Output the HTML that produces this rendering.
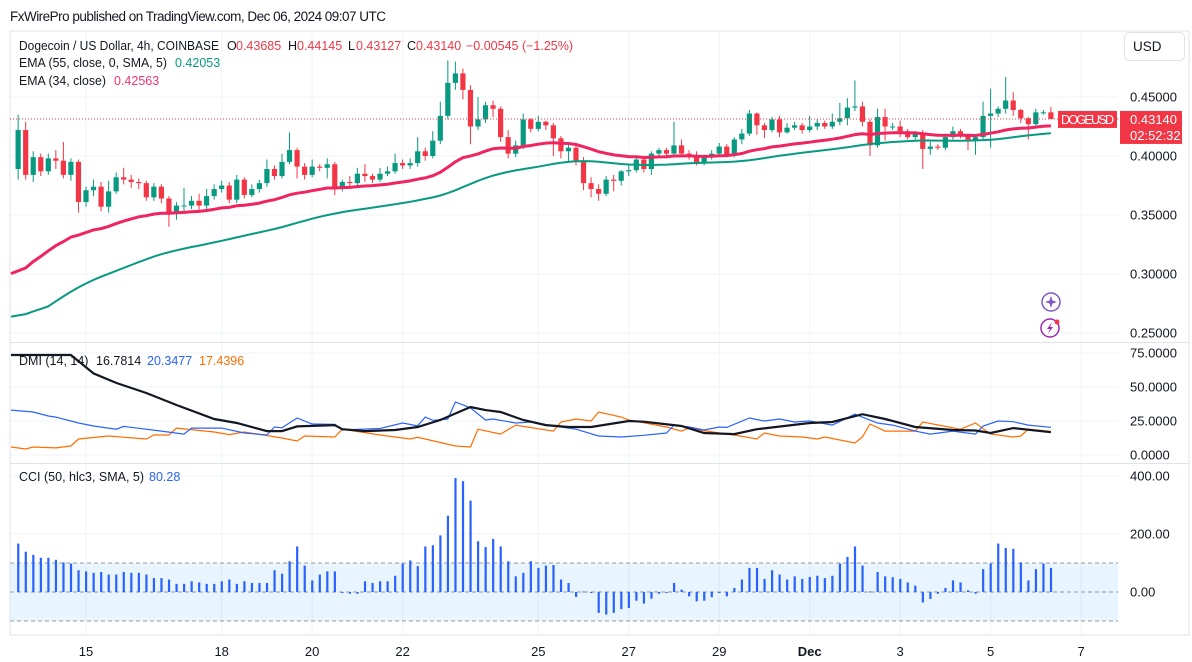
<!DOCTYPE html>
<html><head><meta charset="utf-8"><title>DOGEUSD chart</title>
<style>
html,body{margin:0;padding:0;background:#fff;width:1192px;height:662px;overflow:hidden}
svg{display:block;font-family:"Liberation Sans",sans-serif}
</style></head><body>
<svg id="chart" width="1192" height="662" viewBox="0 0 1192 662" xmlns="http://www.w3.org/2000/svg">
<rect x="0" y="0" width="1192" height="662" fill="#fff"/>
<text x="10" y="21" font-size="13.5" fill="#131722" textLength="376">FxWirePro published on TradingView.com, Dec 06, 2024 09:07 UTC</text>
<g id="grid"></g>
<g id="cciBand"></g>
<g id="candles"></g>
<g id="emas"></g>
<g id="dmi"></g>
<g id="cci"></g>
<g id="frame">
<line x1="10" y1="31" x2="1189" y2="31" stroke="#e0e3eb"/>
<line x1="10" y1="31" x2="10" y2="635" stroke="#e0e3eb"/>
<line x1="1189" y1="31" x2="1189" y2="635" stroke="#e0e3eb"/>
<line x1="10" y1="342.5" x2="1189" y2="342.5" stroke="#e0e3eb"/>
<line x1="10" y1="463.5" x2="1189" y2="463.5" stroke="#e0e3eb"/>
<line x1="10" y1="635" x2="1189" y2="635" stroke="#e0e3eb"/>
</g>
<g id="axes"></g>
<g font-size="12.5">
<text x="19" y="50" fill="#131722" textLength="200" lengthAdjust="spacingAndGlyphs">Dogecoin / US Dollar, 4h, COINBASE</text>
<text x="227" y="50" fill="#131722">O</text>
<text x="236" y="50" fill="#f23645">0.43685</text>
<text x="288" y="50" fill="#131722">H</text>
<text x="297" y="50" fill="#f23645">0.44145</text>
<text x="348" y="50" fill="#131722">L</text>
<text x="356" y="50" fill="#f23645">0.43127</text>
<text x="407" y="50" fill="#131722">C</text>
<text x="416" y="50" fill="#f23645">0.43140</text>
<text x="466" y="50" fill="#f23645">−0.00545 (−1.25%)</text>
<text x="19" y="67" fill="#131722" textLength="148" lengthAdjust="spacingAndGlyphs">EMA (55, close, 0, SMA, 5)</text>
<text x="175" y="67" fill="#089981">0.42053</text>
<text x="19" y="85" fill="#131722" textLength="87" lengthAdjust="spacingAndGlyphs">EMA (34, close)</text>
<text x="114" y="85" fill="#f23672">0.42563</text>
<text x="19" y="365" fill="#131722">DMI (14, 14)</text>
<text x="96" y="365" fill="#131722">16.7814</text>
<text x="147" y="365" fill="#2962ff">20.3477</text>
<text x="199" y="365" fill="#ff6d00">17.4396</text>
<text x="19" y="481" fill="#131722">CCI (50, hlc3, SMA, 5)</text>
<text x="149" y="481" fill="#2962ff">80.28</text>
</g>
<g>
<rect x="1124.5" y="32.5" width="60" height="28" rx="5" fill="#fff" stroke="#e0e3eb"/>
<text x="1133" y="51" font-size="13.5" fill="#131722">USD</text>
</g>
<g>
<circle cx="1051" cy="302" r="9" fill="#fff" stroke="#7e57c2" stroke-width="1.5"/>
<path d="M1051 296 L1052.5 300.5 L1057 302 L1052.5 303.5 L1051 308 L1049.5 303.5 L1045 302 L1049.5 300.5 Z" fill="#7e57c2"/>
<circle cx="1050" cy="328" r="9" fill="#fff" stroke="#9c27b0" stroke-width="1.5"/>
<path d="M1052 322 L1047 329 L1050 329 L1048 334 L1053 327 L1050 327 Z" fill="#9c27b0"/>
<circle cx="1057" cy="322" r="2.5" fill="#f23645"/>
</g>
<g id="priceLabels"></g>
</svg>
<script>
// ---- data ----
var closes = [
.422,.384,.399,.387,.398,.396,.384,.395,.361,.371,
.374,.357,.370,.382,.380,.378,.377,.365,.374,.364,
.351,.358,.358,.362,.358,.366,.372,.375,.363,.380,
.367,.372,.377,.389,.383,.395,.405,.391,.384,.391,
.390,.393,.373,.378,.377,.385,.383,.380,.385,.387,
.394,.392,.394,.404,.400,.413,.434,.462,.470,.456,
.425,.431,.443,.440,.416,.402,.409,.431,.423,.429,
.426,.415,.404,.407,.396,.377,.372,.368,.380,.379,
.387,.388,.397,.389,.402,.405,.402,.409,.402,.400,
.394,.399,.402,.408,.401,.414,.419,.436,.426,.422,
.431,.420,.424,.426,.422,.425,.428,.425,.429,.432,
.441,.442,.429,.409,.433,.425,.425,.421,.416,.419,
.406,.408,.407,.416,.421,.418,.414,.416,.434,.436,
.440,.447,.439,.432,.427,.437,.437,.4314];
var opens = [.389].concat(closes.slice(0, closes.length - 1));
var highs = [
.435,.429,.404,.402,.402,.405,.412,.398,.397,.374,
.380,.378,.379,.386,.390,.384,.381,.379,.377,.376,
.366,.361,.373,.366,.368,.372,.376,.379,.378,.384,
.382,.376,.380,.397,.392,.402,.420,.407,.394,.397,
.393,.398,.395,.380,.383,.390,.393,.385,.390,.391,
.402,.397,.398,.416,.407,.421,.446,.481,.480,.474,
.460,.450,.446,.447,.442,.422,.413,.436,.432,.434,
.430,.428,.417,.412,.410,.399,.382,.376,.383,.384,
.388,.392,.400,.399,.404,.407,.407,.429,.414,.405,
.404,.401,.405,.411,.410,.416,.423,.439,.437,.428,
.433,.434,.428,.429,.428,.434,.431,.430,.436,.445,
.449,.464,.446,.431,.440,.440,.428,.430,.423,.421,
.422,.412,.410,.419,.425,.423,.419,.418,.446,.457,
.442,.467,.454,.440,.433,.440,.439,.4415];
var lows = [
.380,.380,.378,.383,.384,.389,.381,.379,.352,.357,
.366,.353,.352,.368,.376,.373,.372,.362,.362,.360,
.340,.346,.353,.355,.353,.355,.363,.369,.360,.360,
.364,.365,.369,.374,.380,.381,.393,.381,.380,.382,
.387,.381,.367,.370,.372,.373,.378,.377,.378,.383,
.385,.389,.389,.391,.396,.398,.410,.431,.456,.448,
.410,.422,.428,.433,.412,.398,.399,.406,.420,.421,
.422,.400,.398,.395,.392,.371,.365,.362,.366,.370,
.375,.383,.386,.386,.384,.400,.398,.400,.400,.397,
.392,.392,.397,.400,.399,.399,.410,.417,.418,.415,
.420,.416,.419,.422,.419,.420,.422,.423,.423,.426,
.426,.438,.425,.400,.407,.413,.422,.416,.414,.414,
.389,.401,.405,.405,.414,.415,.405,.401,.414,.407,
.433,.436,.434,.428,.414,.425,.435,.4313];
var ema34Seed = 0.293;
var ema55Seed = 0.258;
var adxBars = [0,7,10,13,17,21,26,29,33,35,37,42,43,46,50,53,56,60,62,64,67,70,73,76,81,83,88,91,95,98,105,108,112,115,119,124,127,129,132,137];
var adxVals = [73.5,73.5,60,53,45.6,36.8,26.5,23.5,17.6,17.6,21,22,19,17.6,18.4,20.6,25.7,35.3,33,31.6,25.7,22,20.6,20.6,25,24.5,21.3,16.2,15.4,19,23.5,24.3,30,26.5,20.6,18.4,18,16.2,19.8,16.78];
var pdiBars = [0,2,4,5,8,10,13,14,19,22,23,27,30,33,34,35,37,39,42,43,48,51,53,54,55,57,58,60,62,63,66,68,71,74,77,80,83,86,87,89,91,93,94,97,99,101,103,105,108,111,114,116,119,121,124,127,128,130,132,134,137];
var pdiVals = [33,31.6,28.7,27.9,23.5,21.3,19,21,17.6,15.4,19.8,19.8,16.2,14.7,20.6,20,27.2,22.8,22.5,18.4,19.5,23.5,21.5,27.9,25.5,26.5,39,34.6,25.7,26.5,23.5,24.3,21.3,19,14,13.2,14.5,16.2,22,20.6,18.4,20.6,20.3,27.2,25,26.5,24.3,25,22,30,23.5,22,17.6,15.4,17.6,15.4,21.3,25,24.5,22,20.35];
var mdiBars = [0,1,2,5,7,8,12,17,18,20,21,26,28,30,35,37,38,42,43,48,52,53,58,60,61,64,66,71,72,74,76,77,80,81,86,88,89,93,95,98,99,101,104,106,107,111,112,113,115,119,120,125,127,129,132,133,134,137];
var mdiVals = [5.9,4.4,5.9,5.2,6.6,11.8,14,11.8,14.7,14.7,19.8,16.9,15,16.9,12.5,10.3,14,13.2,19,14.7,11.8,13,6.6,5.9,19,15.4,22,17.6,24.3,26.5,25,31.6,27.9,25.7,20.6,17.6,19.8,16.2,14.7,11.8,16.2,14,13.2,11.8,13.2,8.8,13.2,22.8,17.6,17.6,24.3,19,23.5,15.4,13.2,14,19,17.44];
var cciVals = [
167,139,128,118,118,111,102,98,75,71,
66,69,60,60,69,66,66,60,48,48,
43,28,28,37,33,28,28,37,43,28,
37,31,31,31,75,63,106,157,91,40,
60,71,71,-3,-6,-6,37,31,37,37,
56,98,109,89,157,161,195,263,393,382,
315,175,155,183,157,106,54,66,106,83,
91,93,43,31,-17,2,-3,-72,-78,-72,
-59,-55,-30,-40,-23,-6,-3,31,8,-15,
-32,-30,-18,-3,-15,14,43,83,83,45,
75,60,43,54,45,52,56,48,56,98,
121,157,91,2,69,54,51,45,33,22,
-36,-24,-6,14,40,33,6,-6,79,98,
167,152,149,102,40,79,98,83];
var priceTicks = [0.45, 0.40, 0.35, 0.30, 0.25];
var priceTickLabels = ["0.45000","0.40000","0.35000","0.30000","0.25000"];
var dmiTicks = [75, 50, 25, 0];
var dmiTickLabels = ["75.0000","50.0000","25.0000","0.0000"];
var cciTicks = [400, 200, 0];
var cciTickLabels = ["400.00","200.00","0.00"];
var timeTickDays = [0,3,5,7,10,12,14,16,18,20,22];
var timeTickLabels = ["15","18","20","22","25","27","29","Dec","3","5","7"];
var lastPrice = 0.4314;

// ---- scales ----
var NS = "http://www.w3.org/2000/svg";
function xDay(d){ return 86 + d * 45.23; }
function xBar(i){ return xDay((i * 4 - 36) / 24); }
function yP(p){ return 97 + (0.45 - p) * 1180; }
function yD(v){ return 455 - v * 1.36; }
function yC(v){ return 592 - v * 0.29; }
function mk(tag, attrs, parent){
  var e = document.createElementNS(NS, tag);
  for (var k in attrs) e.setAttribute(k, attrs[k]);
  parent.appendChild(e);
  return e;
}
var grid = document.getElementById('grid');
var axes = document.getElementById('axes');

timeTickDays.forEach(function(d, k){
  var x = xDay(d);
  var l = mk('line', {x1:x, y1:31, x2:x, y2:635, stroke:'#f0f3fa'}, grid);
  
  
  var t = mk('text', {x:x, y:656, 'text-anchor':'middle', 'font-size':13, fill:'#131722', 'font-weight': timeTickLabels[k]==='Dec' ? 'bold' : 'normal'}, axes);
  t.textContent = timeTickLabels[k];
  
  
});
priceTicks.forEach(function(p, k){
  var y = yP(p);
  var l = mk('line', {x1:10, y1:y, x2:1118, y2:y, stroke:'#f0f3fa'}, grid);
  
  
  var t = mk('text', {x:1130, y:y+4.5, 'font-size':13, fill:'#131722'}, axes);
  t.textContent = priceTickLabels[k];
  
  
});
dmiTicks.forEach(function(v, k){
  var y = yD(v);
  var l = mk('line', {x1:10, y1:y, x2:1118, y2:y, stroke:'#f0f3fa'}, grid);
  
  
  var t = mk('text', {x:1130, y:y+4.5, 'font-size':13, fill:'#131722'}, axes);
  t.textContent = dmiTickLabels[k];
  
  
});
cciTicks.forEach(function(v, k){
  var y = yC(v);
  if (v !== 0) {
    var l = mk('line', {x1:10, y1:y, x2:1118, y2:y, stroke:'#f0f3fa'}, grid);
    
    
  }
  var t = mk('text', {x:1130, y:y+4.5, 'font-size':13, fill:'#131722'}, axes);
  t.textContent = cciTickLabels[k];
  
  
});

var band = document.getElementById('cciBand');
var br = mk('rect', {x:10, y:yC(100), width:1108, height:yC(-100)-yC(100), fill:'#2196f3', 'fill-opacity':0.1}, band);


[100, 0, -100].forEach(function(v){
  var l = mk('line', {x1:10, y1:yC(v), x2:1118, y2:yC(v), stroke:'#9598a1', 'stroke-dasharray':'4 3', 'stroke-width':1}, band);
  
  
});

var cg = document.getElementById('candles');
closes.forEach(function(c, i){
  var o = opens[i], x = xBar(i), up = c >= o;
  var col = up ? '#089981' : '#f23645';
  var w = mk('line', {x1:x, y1:yP(highs[i]), x2:x, y2:yP(lows[i]), stroke:col, 'stroke-width':1}, cg);
  
  
  var top = yP(Math.max(o, c)), bot = yP(Math.min(o, c));
  var b = mk('rect', {x:x-2.6, y:top, width:5.2, height:Math.max(1, bot-top), fill:col}, cg);
  
  
});

var em = document.getElementById('emas');
var e34 = [], e55 = [], a34 = 2/35, a55 = 2/56, p34 = ema34Seed, p55 = ema55Seed;
closes.forEach(function(c){
  p34 = p34 + a34*(c - p34); e34.push(p34);
  p55 = p55 + a55*(c - p55); e55.push(p55);
});
var e55s = e55.map(function(v, i){
  var s = 0, n = 0;
  for (var j = Math.max(0, i-4); j <= i; j++){ s += e55[j]; n++; }
  return s / n;
});
function path(vals, yf){
  return vals.map(function(v, i){ return (i ? 'L' : 'M') + (i ? xBar(i) : 11).toFixed(1) + ' ' + yf(v).toFixed(1); }).join(' ');
}
var l55 = mk('path', {d:path(e55s, yP), fill:'none', stroke:'#089981', 'stroke-width':2}, em);


var l34 = mk('path', {d:path(e34, yP), fill:'none', stroke:'#f0245f', 'stroke-width':3}, em);



var dg = document.getElementById('dmi');
function pairPath(bars, vals){
  return bars.map(function(b, k){ return (k ? 'L' : 'M') + (b === 0 ? 11 : xBar(b)).toFixed(1) + ' ' + yD(vals[k]).toFixed(1); }).join(' ');
}
var lm = mk('path', {d:pairPath(mdiBars, mdiVals), fill:'none', stroke:'#ff6d00', 'stroke-width':1.2}, dg);


var lp = mk('path', {d:pairPath(pdiBars, pdiVals), fill:'none', stroke:'#2962ff', 'stroke-width':1.2}, dg);


var la = mk('path', {d:pairPath(adxBars, adxVals), fill:'none', stroke:'#131722', 'stroke-width':2.2}, dg);



var hg = document.getElementById('cci');
cciVals.forEach(function(v, i){
  var x = xBar(i), y0 = yC(0), y1 = yC(v);
  var r = mk('rect', {x:x-1, y:Math.min(y0, y1), width:2.2, height:Math.max(1, Math.abs(y1-y0)), fill:'#2962ff'}, hg);
  
  
});

var pl = document.getElementById('priceLabels');
var ly = yP(lastPrice);
var dl = mk('line', {x1:10, y1:ly, x2:1118, y2:ly, stroke:'#f23645', 'stroke-dasharray':'1 2', 'stroke-width':1}, pl);


var sb = mk('rect', {x:1058, y:ly-8, width:59, height:17, fill:'#f23645'}, pl);


var st = mk('text', {x:1061, y:ly+5, 'font-size':12.5, fill:'#fff', textLength:53}, pl);
st.textContent = 'DOGEUSD';


var pb = mk('rect', {x:1120, y:ly-8, width:62, height:33, fill:'#f23645'}, pl);


var pt = mk('text', {x:1130, y:ly+5, 'font-size':13, fill:'#fff'}, pl);
pt.textContent = '0.43140';


var ct = mk('text', {x:1130, y:ly+21, 'font-size':13, fill:'#fff'}, pl);
ct.textContent = '02:52:32';


</script>
</body></html>
